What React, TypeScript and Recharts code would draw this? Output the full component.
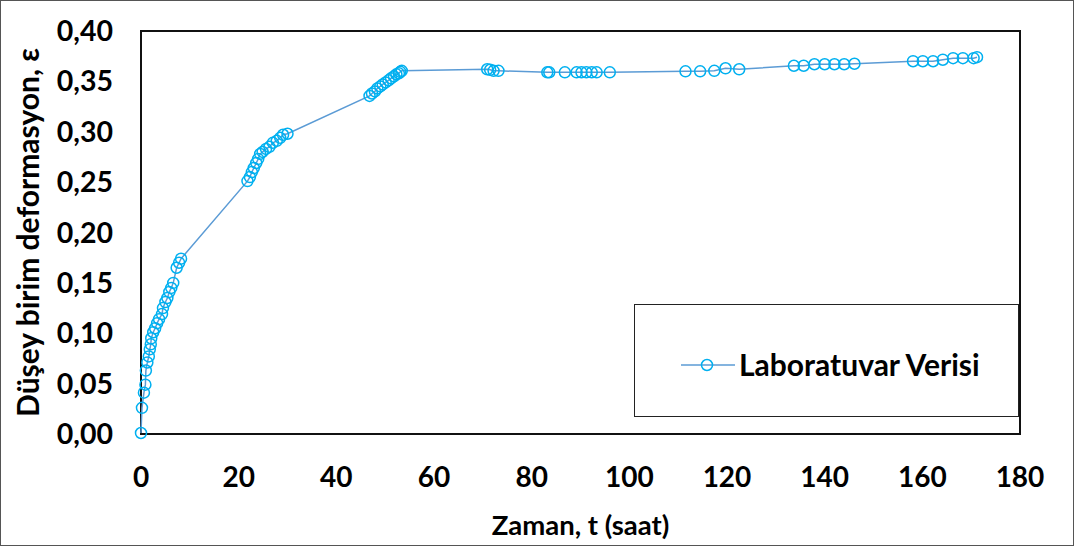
import React from "react"
import { LineChart, Line, XAxis, YAxis, ReferenceArea, Label } from "recharts"

// zaman (saat) ve düşey birim deformasyon okumaları
const time = [
  0, 0.2, 0.6, 0.9, 1.0, 1.3, 1.6, 1.8, 2.0, 2.1, 2.5, 2.9, 3.3, 3.7, 4.3, 4.5, 5.0, 5.4, 5.8, 6.2, 6.6, 7.3, 7.8, 8.2,
  21.8, 22.3, 22.7, 23.1, 23.6, 24.0, 24.4, 24.9, 25.6, 26.3, 27.0, 27.8, 28.5, 29.1, 30.0,
  46.8, 47.3, 47.9, 48.4, 49.0, 49.5, 50.1, 50.7, 51.2, 51.8, 52.3, 52.8, 53.1, 53.4,
  70.9, 71.5, 72.2, 73.2,
  83.2, 83.6, 86.8, 89.2, 90.2, 91.2, 92.3, 93.3, 96.0,
  111.5, 114.5, 117.4, 119.7, 122.5,
  133.7, 135.7, 137.9, 140.0, 142.0, 144.0, 146.1,
  158.1, 160.1, 162.2, 164.2, 166.3, 168.3, 170.5, 171.2,
]
const strain = [
  0.001, 0.026, 0.041, 0.049, 0.063, 0.071, 0.077, 0.084, 0.089, 0.095, 0.101, 0.105, 0.11, 0.114, 0.119, 0.125, 0.131, 0.135, 0.141, 0.145, 0.15, 0.165, 0.17, 0.174,
  0.251, 0.255, 0.26, 0.264, 0.269, 0.273, 0.278, 0.28, 0.283, 0.285, 0.289, 0.291, 0.294, 0.297, 0.298,
  0.3356, 0.338, 0.34, 0.343, 0.345, 0.347, 0.349, 0.351, 0.353, 0.355, 0.357, 0.358, 0.3595, 0.3605,
  0.362, 0.3615, 0.3605, 0.3605,
  0.359, 0.359, 0.359, 0.359, 0.359, 0.359, 0.359, 0.359, 0.359,
  0.36, 0.36, 0.3605, 0.363, 0.362,
  0.3655, 0.3655, 0.367, 0.367, 0.367, 0.367, 0.3675,
  0.37, 0.37, 0.37, 0.3715, 0.373, 0.373, 0.373, 0.374,
]
const xTicks = [0, 20, 40, 60, 80, 100, 120, 140, 160, 180]
const yTicks = [0, 0.05, 0.1, 0.15, 0.2, 0.25, 0.3, 0.35, 0.4]
const seriesName = "Laboratuvar Verisi"

const data = time.map((t, i) => ({ t, e: strain[i] }))

const font = "Lato, 'Open Sans', sans-serif"
const lineColor = "#5B9BD5"
const dotColor = "#00B0F0"
const textStyle = { fill: "#000", fontWeight: 700, fontFamily: font }

function LegendBox() {
  return (
    <div
      style={{
        position: "absolute",
        left: 634,
        top: 304,
        width: 385,
        height: 113,
        boxSizing: "border-box",
        border: "1.5px solid #222",
        background: "#fff",
        fontFamily: font,
      }}
    >
      <svg width={60} height={20} style={{ position: "absolute", left: 44, top: 50 }}>
        <line x1={2} y1={10} x2={56} y2={10} stroke={lineColor} strokeWidth={1.5} />
        <circle cx={28} cy={10} r={5.5} fill="none" stroke={dotColor} strokeWidth={1.5} />
      </svg>
      <span
        style={{
          position: "absolute",
          left: 104,
          top: 42,
          fontSize: 30,
          fontWeight: 700,
          color: "#000",
          lineHeight: "34px",
          whiteSpace: "nowrap",
        }}
      >
        {seriesName}
      </span>
    </div>
  )
}

export default function App() {
  return (
    <div style={{ position: "relative", width: 1074, height: 546, background: "#fff" }}>
      <style>{"body{margin:0}"}</style>
      <LineChart width={1074} height={546} data={data} margin={{ top: 31, right: 54, bottom: 0, left: 0 }}>
        <XAxis
          type="number"
          dataKey="t"
          domain={[0, 180]}
          ticks={xTicks}
          interval={0}
          height={112}
          tickLine={false}
          axisLine={false}
          tickMargin={27}
          tick={{ ...textStyle, fontSize: 28 }}
        >
          <Label value="Zaman, t (saat)" position="insideBottom" offset={11} style={{ ...textStyle, fontSize: 27.5 }} />
        </XAxis>
        <YAxis
          type="number"
          domain={[0, 0.4]}
          ticks={yTicks}
          interval={0}
          width={141}
          tickLine={false}
          axisLine={false}
          tickMargin={22}
          tickFormatter={(v: number) => v.toFixed(2).replace(".", ",")}
          tick={{ ...textStyle, fontSize: 28.5 }}
        >
          <Label
            value="Düşey birim deformasyon, ε"
            angle={-90}
            position="insideLeft"
            offset={28}
            style={{ ...textStyle, fontSize: 30, textAnchor: "middle" }}
          />
        </YAxis>
        <ReferenceArea x1={0} x2={180} y1={0} y2={0.4} fill="none" stroke="#111" strokeWidth={2} ifOverflow="visible" />
        <Line
          type="linear"
          dataKey="e"
          name={seriesName}
          stroke={lineColor}
          strokeWidth={1.5}
          dot={{ r: 5.5, fill: "none", stroke: dotColor, strokeWidth: 1.5 }}
          activeDot={false}
          isAnimationActive={false}
        />
      </LineChart>
      <LegendBox />
      <div
        style={{
          position: "absolute",
          left: 0,
          top: 0,
          width: 1074,
          height: 546,
          boxSizing: "border-box",
          border: "1px solid #555",
          pointerEvents: "none",
        }}
      />
    </div>
  )
}
